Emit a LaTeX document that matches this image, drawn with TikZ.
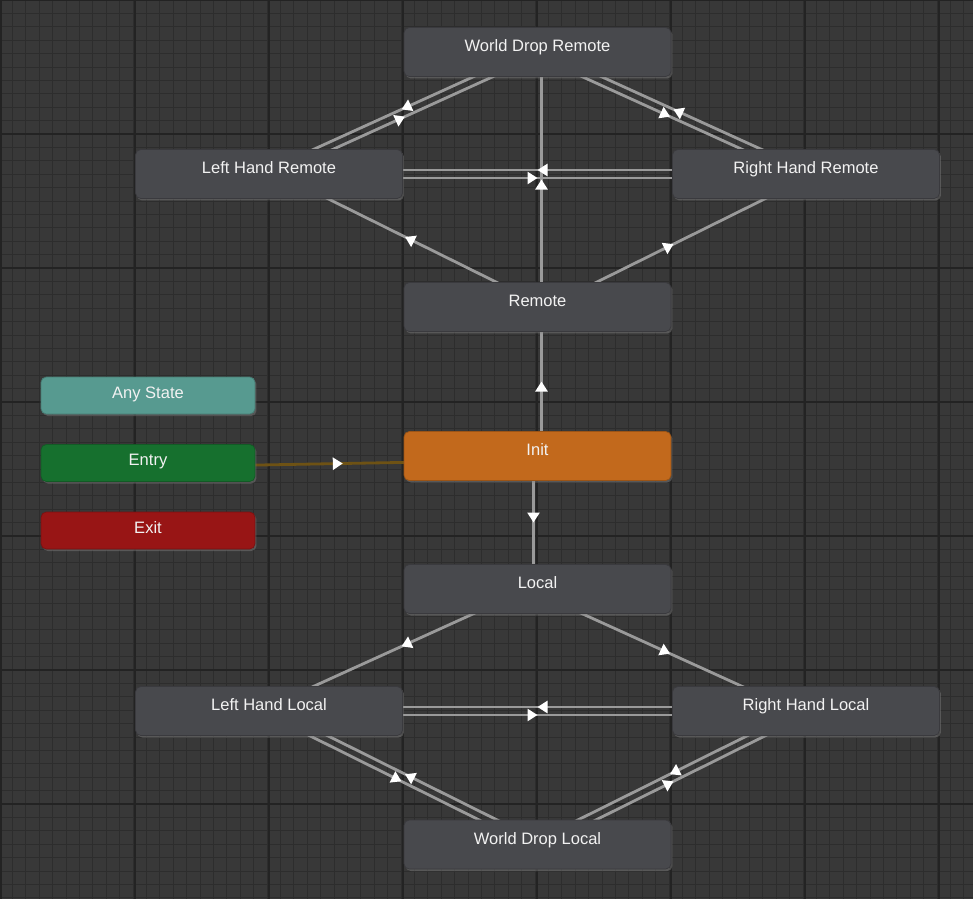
\documentclass[tikz,border=0pt]{standalone}
\usepackage{fontspec}
\setmainfont{Liberation Sans}
\usetikzlibrary{calc, backgrounds, decorations.markings, arrows.meta, shadows}
\definecolor{xbg}{HTML}{383838}
\definecolor{xminor}{HTML}{2D2D2D}
\definecolor{xmajor}{HTML}{232323}
\definecolor{xstate}{HTML}{48494D}
\definecolor{xline}{HTML}{9A9A9A}
\definecolor{xany}{HTML}{579A90}
\definecolor{xentry}{HTML}{16702E}
\definecolor{xexit}{HTML}{981515}
\definecolor{xinit}{HTML}{C2691C}
\definecolor{xbrown}{HTML}{6E5214}
\tikzset{
	state/.style={rectangle, rounded corners=3pt, fill=xstate, draw=xstate!80!black, thin,
		minimum width=5.34cm, minimum height=0.98cm, text=white!90!gray,
		text height=0.22cm, text depth=0.24cm, font=\fontsize{9.4}{11}\selectfont,
		drop shadow={opacity=0.45, shadow xshift=0.03cm, shadow yshift=-0.04cm}},
	special/.style={state, minimum width=4.28cm, minimum height=0.74cm, text depth=0.12cm},
	link/.style={line width=1.6pt, draw=xline,
		postaction={decorate, decoration={markings,
			mark=at position 0.5 with {\arrow[white]{Triangle[length=0.2cm, width=0.24cm]}}}}},
}
\newcommand\trans[3][]{\draw[link,#1] ($(#2)!0.08cm!-90:(#3)$) -- ($(#3)!0.08cm!90:(#2)$);}
\begin{document}
\begin{tikzpicture}[x=0.02cm, y=-0.02cm]
	\useasboundingbox (0,0) rectangle (973,899);
	% remote half
	\node[state] (WDR) at (537.5,52) {World Drop Remote};
	\node[state] (LHR) at (269,174) {Left Hand Remote};
	\node[state] (RHR) at (806,174) {Right Hand Remote};
	\node[state] (Rem) at (537.5,307) {Remote};
	% entry column
	\node[special, fill=xany, draw=xany!80!black] (Any) at (148,395.5) {Any State};
	\node[special, fill=xentry, draw=xentry!80!black] (Ent) at (148,463) {Entry};
	\node[special, fill=xexit, draw=xexit!80!black] (Ext) at (148,530.5) {Exit};
	\node[state, fill=xinit, draw=xinit!80!black] (Init) at (537.5,456) {Init};
	% local half
	\node[state] (Loc) at (537.5,589) {Local};
	\node[state] (LHL) at (269,711) {Left Hand Local};
	\node[state] (RHL) at (806,711) {Right Hand Local};
	\node[state] (WDL) at (537.5,844.5) {World Drop Local};

	\begin{pgfonlayer}{background}
		\fill[xbg] (0,0) rectangle (973,899);
		\foreach \i in {0,...,73} {
			\draw[xminor, line width=0.4pt] (\i*13.4-1,0) -- (\i*13.4-1,899);
			\draw[xminor, line width=0.4pt] (0,\i*13.4) -- (973,\i*13.4);
		}
		\foreach \i in {0,...,7} {
			\draw[xmajor, line width=0.7pt] (\i*134+1,0) -- (\i*134+1,899);
			\draw[xmajor, line width=0.7pt] (0,\i*134) -- (973,\i*134);
		}
		\trans{Init}{Rem}
		\trans{Init}{Loc}
		\trans[draw=xbrown]{Ent}{Init}
		\trans{Rem}{WDR}
		\trans{Rem}{LHR}
		\trans{Rem}{RHR}
		\trans{LHR}{RHR}
		\trans{RHR}{LHR}
		\trans{LHR}{WDR}
		\trans{WDR}{LHR}
		\trans{RHR}{WDR}
		\trans{WDR}{RHR}
		\trans{Loc}{LHL}
		\trans{Loc}{RHL}
		\trans{LHL}{RHL}
		\trans{RHL}{LHL}
		\trans{LHL}{WDL}
		\trans{WDL}{LHL}
		\trans{RHL}{WDL}
		\trans{WDL}{RHL}
	\end{pgfonlayer}
\end{tikzpicture}
\end{document}
